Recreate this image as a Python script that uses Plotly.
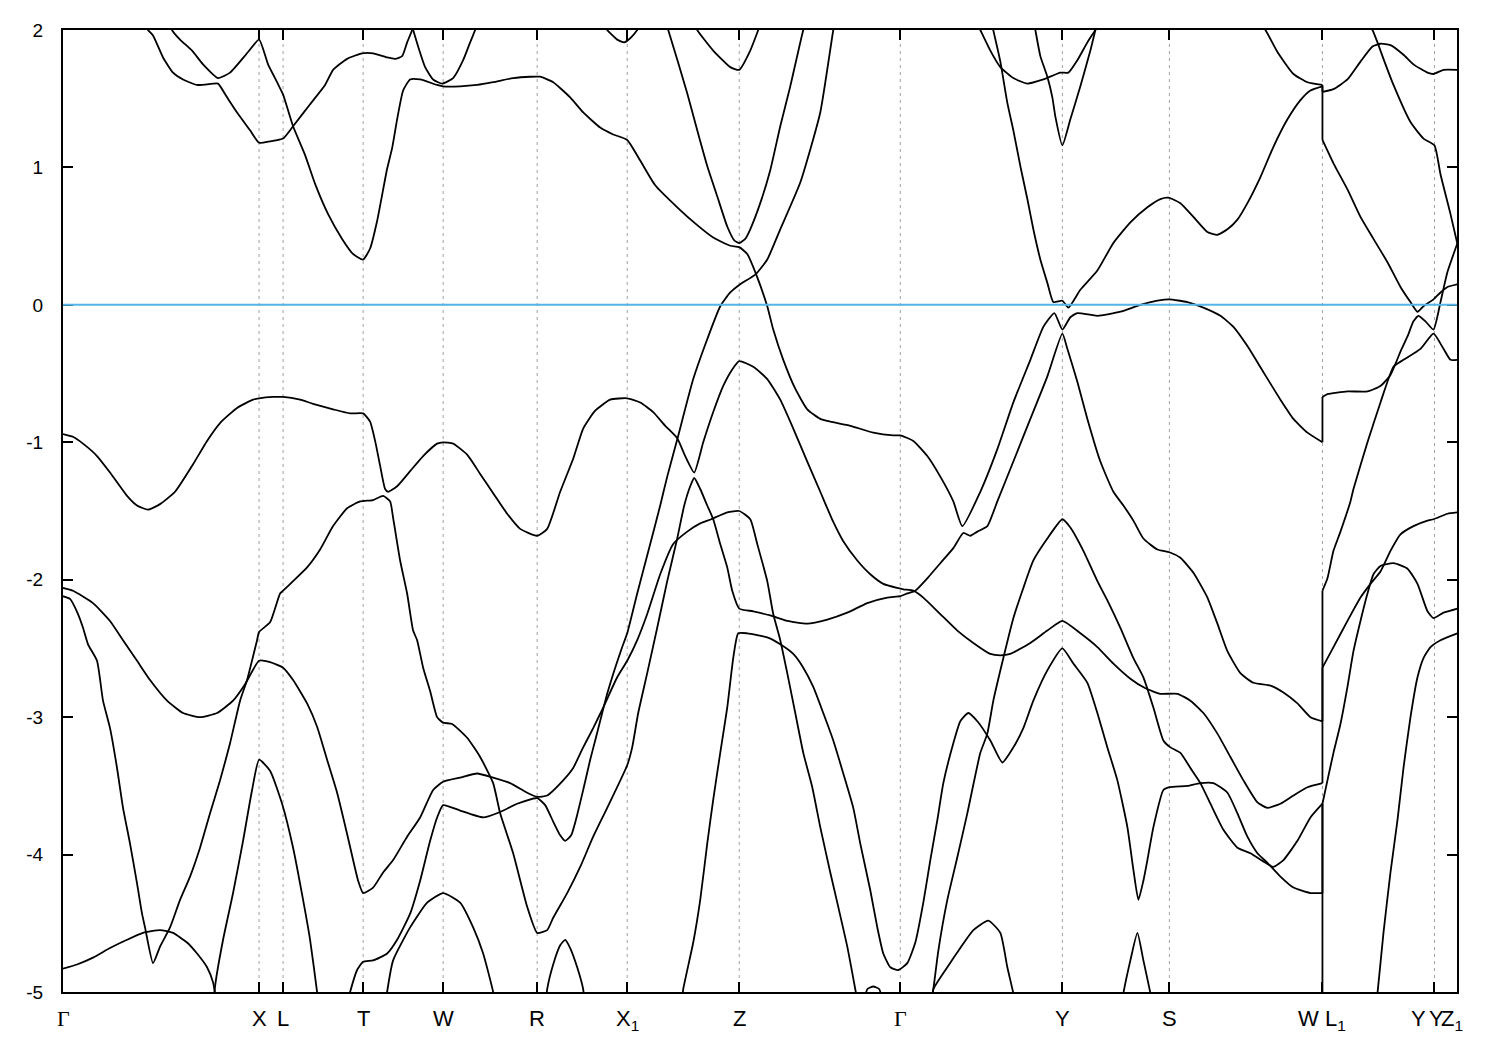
import plotly.graph_objects as go

# ---- high-symmetry points (k in path units) ----
hs_k = [0.00, 1.96, 2.20, 3.00, 3.80, 4.74, 5.64, 6.76, 8.37, 9.99, 11.06, 12.59, 13.71, 13.935]
label_k = [0.00, 1.96, 2.20, 3.00, 3.80, 4.74, 5.64, 6.76, 8.37, 9.99, 11.06, 12.59, 13.55, 13.73, 13.88]
label_text = ["Γ", "X", "L", "T", "W", "R", "X<sub>1</sub>", "Z", "Γ", "Y", "S",
              "W L<sub>1</sub>", "Y", "Y", "Z<sub>1</sub>"]
e_ticks = [-5, -4, -3, -2, -1, 0, 1, 2]
e_ticktext = ["-5", "-4", "-3", "-2", "-1", "0", "1", "2"]
fermi_level = 0.0

# ---- bands: (k, E in eV) ----
band_a = [(0.84, 2.04), (0.85, 2.00), (0.90, 1.96), (1.00, 1.80), (1.10, 1.69), (1.20, 1.64), (1.34, 1.60),
          (1.50, 1.61), (1.55, 1.61), (1.64, 1.51), (1.74, 1.40), (1.87, 1.27), (1.96, 1.18), (2.07, 1.19),
          (2.20, 1.21), (2.30, 1.30), (2.47, 1.46), (2.62, 1.60), (2.70, 1.71), (2.84, 1.79), (2.99, 1.83),
          (3.10, 1.83), (3.24, 1.80), (3.32, 1.79), (3.39, 1.81), (3.44, 1.91), (3.49, 2.00), (3.50, 2.04)]

band_b = [(1.08, 2.04), (1.09, 2.00), (1.17, 1.93), (1.29, 1.85), (1.40, 1.75), (1.55, 1.65), (1.67, 1.69),
          (1.85, 1.84), (1.96, 1.93), (2.05, 1.75), (2.14, 1.62), (2.20, 1.53), (2.30, 1.30), (2.42, 1.09),
          (2.52, 0.88), (2.65, 0.66), (2.79, 0.48), (2.90, 0.37), (3.00, 0.33), (3.07, 0.41), (3.14, 0.61),
          (3.24, 0.99), (3.29, 1.14), (3.34, 1.35), (3.40, 1.56), (3.47, 1.64), (3.57, 1.64), (3.74, 1.60),
          (3.80, 1.59), (3.97, 1.59), (4.14, 1.60), (4.30, 1.62), (4.50, 1.65), (4.67, 1.66), (4.77, 1.66),
          (4.90, 1.62), (5.07, 1.51), (5.20, 1.40), (5.37, 1.29), (5.50, 1.24), (5.64, 1.20), (5.77, 1.05),
          (5.92, 0.87), (6.14, 0.71), (6.34, 0.58), (6.50, 0.49), (6.67, 0.43), (6.76, 0.42), (6.84, 0.37),
          (6.93, 0.22), (7.04, -0.01), (7.10, -0.18), (7.20, -0.40), (7.32, -0.61), (7.44, -0.76),
          (7.57, -0.83), (7.67, -0.85), (7.87, -0.88), (8.10, -0.93), (8.30, -0.95), (8.37, -0.95),
          (8.50, -0.99), (8.64, -1.10), (8.77, -1.25), (8.90, -1.43), (8.99, -1.61), (9.17, -1.36),
          (9.34, -1.05), (9.50, -0.71), (9.67, -0.40), (9.80, -0.16), (9.91, -0.06), (9.99, -0.18),
          (10.07, -0.09), (10.14, -0.06), (10.34, -0.08), (10.57, -0.05), (10.77, 0.00), (10.94, 0.03),
          (11.06, 0.04), (11.24, 0.02), (11.40, -0.02), (11.57, -0.08), (11.70, -0.16), (11.84, -0.30),
          (12.00, -0.49), (12.17, -0.69), (12.30, -0.83), (12.44, -0.93), (12.59, -1.00), (12.59, -0.67),
          (12.64, -0.65), (12.84, -0.63), (13.04, -0.63), (13.17, -0.59), (13.27, -0.51), (13.37, -0.34),
          (13.44, -0.23), (13.50, -0.12), (13.55, -0.08), (13.62, -0.12), (13.70, -0.18), (13.77, 0.02),
          (13.84, 0.24), (13.94, 0.45)]

band_c = [(9.28, 2.06), (9.37, 1.77), (9.44, 1.47), (9.50, 1.27), (9.57, 1.01), (9.64, 0.77), (9.70, 0.55),
          (9.77, 0.33), (9.84, 0.16), (9.90, 0.02), (9.99, 0.03), (10.05, -0.02), (10.17, 0.11), (10.34, 0.25),
          (10.50, 0.45), (10.67, 0.60), (10.84, 0.71), (10.97, 0.77), (11.05, 0.78), (11.17, 0.74),
          (11.30, 0.64), (11.44, 0.53), (11.54, 0.51), (11.64, 0.55), (11.74, 0.62), (11.84, 0.74),
          (11.97, 0.93), (12.10, 1.15), (12.24, 1.35), (12.37, 1.49), (12.47, 1.56), (12.59, 1.59),
          (12.59, 1.20), (12.70, 1.03), (12.84, 0.84), (12.97, 0.64), (13.10, 0.48), (13.24, 0.31),
          (13.37, 0.13), (13.47, 0.02), (13.54, -0.05), (13.60, -0.01), (13.70, 0.04), (13.77, 0.09),
          (13.84, 0.13), (13.94, 0.15)]

band_d = [(11.97, 2.04), (12.02, 2.00), (12.14, 1.84), (12.30, 1.68), (12.44, 1.62), (12.59, 1.60),
          (12.59, 1.55), (12.70, 1.57), (12.84, 1.64), (12.97, 1.77), (13.09, 1.88), (13.17, 1.90),
          (13.27, 1.89), (13.40, 1.82), (13.50, 1.75), (13.64, 1.69), (13.70, 1.68), (13.80, 1.71),
          (13.94, 1.71)]

band_e = [(13.05, 2.04), (13.09, 2.00), (13.14, 1.91), (13.20, 1.79), (13.30, 1.60), (13.47, 1.33),
          (13.60, 1.21), (13.71, 1.16), (13.77, 0.95), (13.87, 0.66), (13.94, 0.44)]

band_f = [(9.13, 2.06), (9.17, 2.00), (9.27, 1.85), (9.37, 1.73), (9.50, 1.65), (9.64, 1.61), (9.80, 1.64),
          (9.97, 1.69), (10.05, 1.69), (10.14, 1.78), (10.24, 1.91), (10.32, 2.00), (10.35, 2.04)]

band_g = [(9.71, 2.04), (9.72, 2.00), (9.77, 1.81), (9.84, 1.66), (9.89, 1.51), (9.92, 1.37), (9.99, 1.16),
          (10.07, 1.35), (10.17, 1.59), (10.27, 1.85), (10.33, 2.03)]

band_h = [(3.48, 2.04), (3.50, 2.00), (3.55, 1.88), (3.62, 1.73), (3.70, 1.64), (3.79, 1.61), (3.90, 1.65),
          (4.00, 1.78), (4.07, 1.91), (4.12, 2.00), (4.14, 2.04)]

band_i = [(5.41, 2.04), (5.44, 2.00), (5.54, 1.93), (5.61, 1.91), (5.67, 1.94), (5.74, 2.00), (5.77, 2.04)]

band_j = [(6.03, 2.04), (6.05, 2.00), (6.24, 1.54), (6.34, 1.27), (6.44, 1.01), (6.54, 0.79), (6.64, 0.57),
          (6.71, 0.47), (6.76, 0.45), (6.82, 0.48), (6.87, 0.55), (6.97, 0.74), (7.07, 0.98), (7.17, 1.30),
          (7.27, 1.59), (7.40, 2.00), (7.42, 2.04)]

band_k = [(6.32, 2.04), (6.34, 2.00), (6.50, 1.85), (6.67, 1.73), (6.76, 1.71), (6.87, 1.85), (6.95, 2.00),
          (6.97, 2.04)]

band_l = [(2.85, -5.06), (2.87, -5.00), (2.94, -4.84), (3.00, -4.78), (3.10, -4.77), (3.24, -4.72),
          (3.34, -4.62), (3.47, -4.43), (3.57, -4.19), (3.67, -3.90), (3.74, -3.73), (3.80, -3.64),
          (3.97, -3.68), (4.20, -3.73), (4.37, -3.69), (4.54, -3.63), (4.74, -3.59), (4.82, -3.64),
          (4.90, -3.76), (4.97, -3.86), (5.02, -3.90), (5.08, -3.86), (5.13, -3.74), (5.20, -3.53),
          (5.27, -3.31), (5.32, -3.17), (5.39, -2.97), (5.44, -2.83), (5.52, -2.64), (5.59, -2.49),
          (5.64, -2.39), (5.74, -2.10), (5.87, -1.74), (5.97, -1.46), (6.04, -1.25), (6.14, -0.98),
          (6.30, -0.54), (6.44, -0.25), (6.57, -0.01), (6.67, 0.09), (6.77, 0.15), (6.92, 0.22),
          (7.04, 0.33), (7.17, 0.55), (7.37, 0.89), (7.57, 1.40), (7.70, 2.00), (7.72, 2.07)]

band_m = [(0.00, -2.12), (0.07, -2.14), (0.15, -2.25), (0.20, -2.35), (0.25, -2.47), (0.34, -2.59),
          (0.40, -2.88), (0.47, -3.08), (0.54, -3.37), (0.60, -3.66), (0.67, -3.92), (0.74, -4.21),
          (0.79, -4.43), (0.82, -4.53), (0.90, -4.79), (0.97, -4.67), (1.07, -4.53), (1.17, -4.33),
          (1.27, -4.16), (1.37, -3.95), (1.47, -3.70), (1.57, -3.46), (1.67, -3.19), (1.77, -2.88),
          (1.84, -2.73), (1.94, -2.44), (1.96, -2.38), (2.07, -2.31), (2.17, -2.10), (2.20, -2.08),
          (2.30, -2.01), (2.44, -1.91), (2.57, -1.78), (2.70, -1.61), (2.84, -1.48), (2.97, -1.43),
          (3.10, -1.42), (3.20, -1.39), (3.27, -1.43), (3.30, -1.55), (3.37, -1.86), (3.44, -2.10),
          (3.50, -2.37), (3.54, -2.44), (3.60, -2.64), (3.67, -2.81), (3.74, -3.00), (3.80, -3.04),
          (3.89, -3.05), (4.04, -3.15), (4.17, -3.29), (4.30, -3.48), (4.37, -3.70), (4.50, -3.99),
          (4.64, -4.38), (4.74, -4.57), (4.84, -4.55), (4.90, -4.46), (5.04, -4.28), (5.17, -4.09),
          (5.30, -3.87), (5.44, -3.66), (5.64, -3.35), (5.69, -3.22), (5.75, -2.97), (5.84, -2.68),
          (5.94, -2.35), (6.04, -2.01), (6.14, -1.70), (6.21, -1.46), (6.27, -1.32), (6.31, -1.26),
          (6.37, -1.34), (6.44, -1.46), (6.50, -1.56), (6.57, -1.74), (6.64, -1.91), (6.69, -2.08),
          (6.76, -2.21), (6.90, -2.23), (7.07, -2.26), (7.24, -2.30), (7.44, -2.32), (7.64, -2.29),
          (7.84, -2.24), (8.04, -2.17), (8.24, -2.13), (8.37, -2.12), (8.44, -2.10), (8.52, -2.08),
          (8.64, -1.99), (8.77, -1.88), (8.90, -1.77), (9.00, -1.66), (9.07, -1.68), (9.14, -1.65),
          (9.24, -1.61), (9.34, -1.43), (9.50, -1.14), (9.67, -0.83), (9.84, -0.52), (9.99, -0.21),
          (10.04, -0.32), (10.14, -0.56), (10.24, -0.83), (10.37, -1.14), (10.50, -1.36), (10.60, -1.46),
          (10.70, -1.57), (10.80, -1.70), (10.94, -1.78), (11.06, -1.80), (11.17, -1.84), (11.30, -1.95),
          (11.44, -2.13), (11.54, -2.32), (11.64, -2.52), (11.77, -2.68), (11.90, -2.75), (12.07, -2.77),
          (12.20, -2.82), (12.34, -2.90), (12.47, -3.00), (12.59, -3.03), (12.59, -2.08), (12.64, -1.99),
          (12.70, -1.79), (12.77, -1.65), (12.87, -1.43), (12.90, -1.34), (13.04, -1.00), (13.17, -0.71),
          (13.30, -0.45), (13.40, -0.40), (13.57, -0.32), (13.70, -0.21), (13.80, -0.32), (13.87, -0.40),
          (13.94, -0.40)]

band_n = [(0.00, -0.94), (0.10, -0.96), (0.20, -1.01), (0.34, -1.10), (0.47, -1.22), (0.64, -1.39),
          (0.74, -1.46), (0.85, -1.49), (0.97, -1.45), (1.12, -1.36), (1.30, -1.16), (1.44, -0.99),
          (1.57, -0.86), (1.74, -0.75), (1.90, -0.69), (1.96, -0.68), (2.10, -0.67), (2.20, -0.67),
          (2.37, -0.69), (2.50, -0.72), (2.70, -0.76), (2.87, -0.79), (3.00, -0.79), (3.07, -0.85),
          (3.12, -0.99), (3.17, -1.17), (3.22, -1.34), (3.25, -1.36), (3.34, -1.32), (3.47, -1.21),
          (3.60, -1.10), (3.74, -1.01), (3.80, -1.00), (3.90, -1.01), (4.04, -1.09), (4.17, -1.23),
          (4.30, -1.37), (4.44, -1.52), (4.57, -1.63), (4.74, -1.68), (4.84, -1.63), (4.97, -1.36),
          (5.10, -1.12), (5.20, -0.90), (5.32, -0.77), (5.47, -0.69), (5.64, -0.68), (5.77, -0.71),
          (5.90, -0.78), (6.02, -0.88), (6.14, -0.97), (6.22, -1.10), (6.31, -1.22), (6.40, -1.00),
          (6.50, -0.78), (6.60, -0.59), (6.69, -0.47), (6.76, -0.41), (6.90, -0.45), (7.04, -0.54),
          (7.17, -0.69), (7.30, -0.90), (7.44, -1.14), (7.57, -1.36), (7.70, -1.58), (7.80, -1.72),
          (7.94, -1.86), (8.07, -1.96), (8.20, -2.03), (8.34, -2.06), (8.40, -2.07), (8.50, -2.08),
          (8.60, -2.13), (8.77, -2.25), (8.94, -2.37), (9.10, -2.46), (9.27, -2.54), (9.37, -2.55),
          (9.47, -2.54), (9.67, -2.46), (9.84, -2.37), (9.99, -2.30), (10.17, -2.39), (10.34, -2.49),
          (10.50, -2.61), (10.67, -2.72), (10.82, -2.79), (10.97, -2.83), (11.14, -2.83), (11.27, -2.88),
          (11.40, -2.97), (11.54, -3.12), (11.67, -3.29), (11.80, -3.46), (11.94, -3.62), (12.04, -3.66),
          (12.17, -3.63), (12.30, -3.57), (12.44, -3.51), (12.59, -3.48), (12.59, -2.64), (12.70, -2.49),
          (12.84, -2.30), (12.97, -2.13), (13.07, -2.03), (13.17, -1.94), (13.27, -1.79), (13.37, -1.67),
          (13.50, -1.61), (13.64, -1.57), (13.70, -1.56), (13.84, -1.52), (13.94, -1.51)]

band_o = [(0.00, -2.06), (0.10, -2.08), (0.30, -2.17), (0.47, -2.30), (0.60, -2.44), (0.74, -2.59),
          (0.87, -2.73), (1.04, -2.88), (1.20, -2.97), (1.37, -3.00), (1.54, -2.97), (1.70, -2.88),
          (1.82, -2.76), (1.96, -2.59), (2.07, -2.60), (2.20, -2.64), (2.30, -2.73), (2.44, -2.90),
          (2.54, -3.07), (2.64, -3.31), (2.74, -3.55), (2.84, -3.85), (2.90, -4.04), (2.95, -4.19),
          (3.00, -4.28), (3.10, -4.24), (3.20, -4.13), (3.30, -4.04), (3.44, -3.87), (3.57, -3.73),
          (3.70, -3.53), (3.80, -3.47), (3.97, -3.44), (4.14, -3.41), (4.30, -3.44), (4.47, -3.48),
          (4.64, -3.55), (4.74, -3.58), (4.84, -3.57), (5.00, -3.46), (5.10, -3.37), (5.20, -3.22),
          (5.30, -3.08), (5.40, -2.93), (5.54, -2.71), (5.64, -2.59), (5.74, -2.44), (5.84, -2.25),
          (5.97, -1.96), (6.10, -1.74), (6.24, -1.65), (6.37, -1.59), (6.48, -1.56), (6.64, -1.51),
          (6.76, -1.50), (6.87, -1.56), (6.94, -1.74), (7.04, -2.01), (7.10, -2.25), (7.17, -2.44),
          (7.24, -2.68), (7.32, -2.97), (7.40, -3.26), (7.49, -3.51), (7.57, -3.80), (7.67, -4.13),
          (7.74, -4.35), (7.84, -4.67), (7.92, -4.98), (7.94, -5.06)]

band_p = [(6.19, -5.06), (6.20, -4.98), (6.30, -4.64), (6.37, -4.33), (6.44, -3.92), (6.50, -3.60),
          (6.57, -3.26), (6.64, -2.93), (6.70, -2.57), (6.75, -2.39), (6.84, -2.39), (7.04, -2.42),
          (7.17, -2.47), (7.30, -2.54), (7.40, -2.64), (7.50, -2.78), (7.60, -2.97), (7.70, -3.17),
          (7.80, -3.41), (7.90, -3.66), (7.97, -3.92), (8.07, -4.26), (8.14, -4.53), (8.20, -4.72),
          (8.27, -4.82), (8.35, -4.84), (8.44, -4.79), (8.52, -4.64), (8.60, -4.35), (8.67, -4.04),
          (8.74, -3.75), (8.80, -3.48), (8.90, -3.19), (8.97, -3.03), (9.05, -2.97), (9.14, -3.03),
          (9.27, -3.17), (9.39, -3.33), (9.50, -3.22), (9.60, -3.08), (9.70, -2.88), (9.84, -2.66),
          (9.99, -2.50), (10.10, -2.61), (10.24, -2.75), (10.34, -2.97), (10.44, -3.22), (10.54, -3.46),
          (10.64, -3.80), (10.70, -4.11), (10.75, -4.33), (10.80, -4.19), (10.84, -4.04), (10.90, -3.80),
          (11.00, -3.53), (11.06, -3.51), (11.24, -3.50), (11.37, -3.48), (11.50, -3.48), (11.64, -3.55),
          (11.74, -3.70), (11.84, -3.87), (11.94, -3.99), (12.04, -4.06), (12.17, -4.16), (12.30, -4.24),
          (12.47, -4.28), (12.59, -4.28), (12.59, -3.63), (12.64, -3.46), (12.70, -3.26), (12.77, -3.05),
          (12.84, -2.78), (12.90, -2.52), (12.97, -2.30), (13.04, -2.10), (13.10, -1.96), (13.17, -1.90),
          (13.30, -1.88), (13.44, -1.92), (13.54, -2.03), (13.64, -2.23), (13.70, -2.28), (13.80, -2.24),
          (13.94, -2.21)]

band_q = [(8.68, -5.06), (8.70, -4.98), (8.75, -4.70), (8.84, -4.33), (8.94, -4.02), (9.04, -3.70),
          (9.17, -3.26), (9.24, -3.12), (9.30, -2.88), (9.40, -2.57), (9.50, -2.28), (9.60, -2.06),
          (9.70, -1.86), (9.84, -1.70), (9.99, -1.56), (10.07, -1.62), (10.20, -1.79), (10.34, -2.01),
          (10.44, -2.15), (10.57, -2.35), (10.70, -2.57), (10.80, -2.71), (10.90, -2.93), (11.00, -3.17),
          (11.07, -3.22), (11.17, -3.26), (11.27, -3.37), (11.37, -3.48), (11.47, -3.63), (11.60, -3.82),
          (11.74, -3.95), (11.87, -3.99), (12.00, -4.05), (12.10, -4.09), (12.20, -4.04), (12.34, -3.90),
          (12.47, -3.73), (12.59, -3.63), (12.59, -5.06)]

band_r = [(0.00, -4.83), (0.14, -4.80), (0.30, -4.75), (0.47, -4.68), (0.64, -4.62), (0.80, -4.57),
          (0.97, -4.55), (1.10, -4.57), (1.24, -4.64), (1.34, -4.72), (1.44, -4.82), (1.50, -4.93),
          (1.53, -5.06)]

band_s = [(1.51, -5.06), (1.52, -4.96), (1.60, -4.62), (1.70, -4.28), (1.80, -3.90), (1.89, -3.53),
          (1.96, -3.31), (2.07, -3.39), (2.19, -3.63), (2.30, -3.95), (2.40, -4.33), (2.47, -4.62),
          (2.54, -5.00), (2.55, -5.06)]

band_t = [(3.23, -5.06), (3.24, -5.00), (3.30, -4.77), (3.47, -4.53), (3.64, -4.35), (3.80, -4.28),
          (3.97, -4.35), (4.10, -4.53), (4.20, -4.72), (4.30, -5.00), (4.31, -5.06)]

band_u = [(4.83, -5.06), (4.84, -4.98), (4.90, -4.80), (4.97, -4.66), (5.02, -4.62), (5.07, -4.68),
          (5.14, -4.82), (5.20, -4.98), (5.21, -5.06)]

band_v = [(8.01, -5.06), (8.04, -4.98), (8.10, -4.96), (8.16, -4.98), (8.19, -5.06)]

band_w = [(8.69, -5.06), (8.70, -4.98), (8.84, -4.82), (8.97, -4.68), (9.10, -4.55), (9.25, -4.48),
          (9.37, -4.57), (9.44, -4.82), (9.50, -5.01), (9.51, -5.06)]

band_x = [(10.59, -5.06), (10.60, -5.01), (10.67, -4.77), (10.74, -4.57), (10.80, -4.77), (10.87, -5.01),
          (10.88, -5.06)]

band_y = [(13.13, -5.06), (13.14, -5.01), (13.20, -4.57), (13.27, -4.13), (13.34, -3.75), (13.40, -3.37),
          (13.47, -3.00), (13.54, -2.71), (13.60, -2.57), (13.67, -2.49), (13.77, -2.44), (13.94, -2.39)]

bands = [band_a, band_b, band_c, band_d, band_e, band_f, band_g, band_h, band_i, band_j, band_k,
         band_l, band_m, band_n, band_o, band_p, band_q, band_r, band_s, band_t, band_u, band_v,
         band_w, band_x, band_y]


def split_at_jumps(band):
    """Split a band into smooth pieces and vertical jump pieces (same k, two energies)."""
    smooth, jumps, cur = [], [], [band[0]]
    for p_prev, p in zip(band[:-1], band[1:]):
        if p[0] == p_prev[0]:
            smooth.append(cur)
            jumps.append([p_prev, p])
            cur = [p]
        else:
            cur.append(p)
    smooth.append(cur)
    return smooth, jumps


fig = go.Figure()
for band in bands:
    smooth, jumps = split_at_jumps(band)
    for seg in smooth:
        if len(seg) < 2:
            continue
        fig.add_trace(go.Scatter(x=[p[0] for p in seg], y=[p[1] for p in seg], mode="lines",
                                 line=dict(color="black", width=1.8, shape="spline", smoothing=0.5),
                                 showlegend=False, hoverinfo="skip"))
    for seg in jumps:
        fig.add_trace(go.Scatter(x=[p[0] for p in seg], y=[p[1] for p in seg], mode="lines",
                                 line=dict(color="black", width=1.8),
                                 showlegend=False, hoverinfo="skip"))

shapes = []
for k in hs_k[1:-1]:
    shapes.append(dict(type="line", xref="x", yref="paper", x0=k, x1=k, y0=0, y1=1,
                       line=dict(color="#a0a0a0", width=1, dash="3px,4px"), layer="below"))
shapes.append(dict(type="line", xref="paper", yref="y", x0=0, x1=1, y0=fermi_level, y1=fermi_level,
                   line=dict(color="#56B4E9", width=2), layer="above"))

annotations = []
for k, t in zip(label_k, label_text):
    fam = "Liberation Serif, DejaVu Serif, serif" if t == "Γ" else "Liberation Sans, Arial, sans-serif"
    annotations.append(dict(x=k, y=0, xref="x", yref="paper", text=t, showarrow=False,
                            xanchor="center", yanchor="top", yshift=-12,
                            font=dict(family=fam, size=22, color="black")))

fig.update_layout(
    width=1500, height=1050,
    margin=dict(l=55, r=51, t=20, b=66),
    paper_bgcolor="white", plot_bgcolor="white",
    shapes=shapes, annotations=annotations,
    font=dict(family="Liberation Sans, Arial, sans-serif", size=19, color="black"),
    xaxis=dict(range=[0, 13.935], tickvals=hs_k, showticklabels=False,
               ticks="inside", ticklen=10, tickwidth=1.5, tickcolor="black",
               showline=True, linewidth=2, linecolor="black", mirror="ticks",
               showgrid=False, zeroline=False),
    yaxis=dict(range=[-5, 2], tickvals=e_ticks, ticktext=e_ticktext,
               ticks="inside", ticklen=10, tickwidth=1.5, tickcolor="black",
               showline=True, linewidth=2, linecolor="black", mirror="ticks",
               showgrid=False, zeroline=False, ticklabelstandoff=14,
               tickfont=dict(size=19)),
)

fig.write_html("out.html")
